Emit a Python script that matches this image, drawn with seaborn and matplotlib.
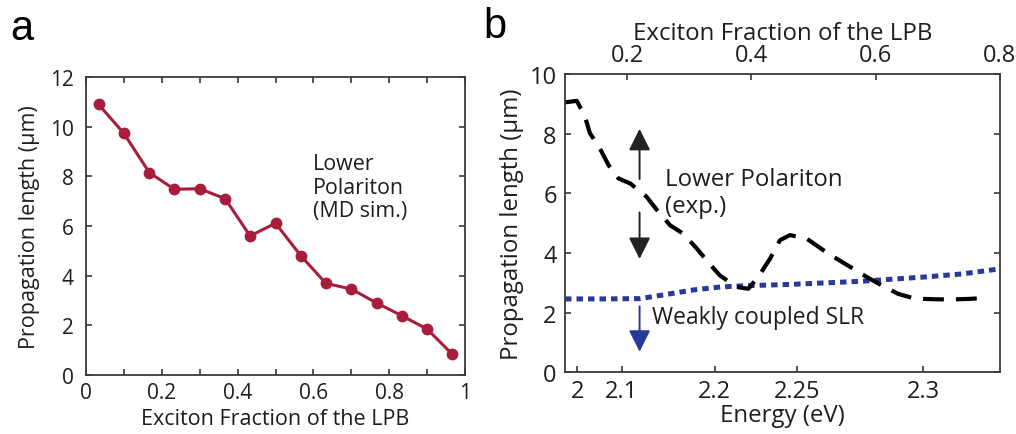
import numpy as np
import pandas as pd
import matplotlib
matplotlib.use("Agg")
import matplotlib.pyplot as plt
from matplotlib.ticker import FixedLocator, FixedFormatter, MultipleLocator
import seaborn as sns

# ---- Panel a: simulated lower-polariton propagation length ----
md_fraction = [0.033, 0.100, 0.167, 0.233, 0.300, 0.367, 0.433, 0.500,
               0.567, 0.633, 0.700, 0.767, 0.833, 0.900, 0.967]
md_length = [10.9, 9.73, 8.15, 7.48, 7.50, 7.10, 5.60, 6.11,
             4.80, 3.69, 3.46, 2.90, 2.39, 1.85, 0.83]

# ---- Panel b: measured lower-polariton and weakly coupled SLR ----
exp_fraction = [0.100, 0.119, 0.132, 0.140, 0.156, 0.170, 0.186, 0.205,
                0.231, 0.248, 0.269, 0.290, 0.312, 0.328, 0.349, 0.376,
                0.395, 0.411, 0.430, 0.446, 0.462, 0.489, 0.516, 0.537,
                0.564, 0.586, 0.610, 0.636, 0.663, 0.693, 0.720, 0.749,
                0.776]
exp_length = [9.05, 9.10, 8.58, 8.02, 7.51, 6.95, 6.50, 6.33,
              5.89, 5.44, 4.93, 4.65, 4.15, 3.75, 3.25, 2.86,
              2.80, 3.20, 3.81, 4.43, 4.60, 4.48, 4.09, 3.81,
              3.47, 3.19, 2.91, 2.63, 2.47, 2.45, 2.44, 2.46,
              2.49]

slr_fraction = [0.100, 0.160, 0.221, 0.260, 0.306, 0.350, 0.387, 0.467,
                0.575, 0.682, 0.740, 0.800]
slr_length = [2.46, 2.46, 2.47, 2.60, 2.76, 2.86, 2.90, 2.95,
              3.05, 3.20, 3.30, 3.47]

# bottom axis of panel b: photon energy marked at its exciton fraction
energy_labels = ["2", "2.1", "2.2", "2.25", "2.3"]
energy_at_fraction = [0.120, 0.191, 0.341, 0.474, 0.676]

fraction_ticks_a = [0, 0.2, 0.4, 0.6, 0.8, 1.0]
fraction_labels_a = ["0", "0.2", "0.4", "0.6", "0.8", "1"]
fraction_ticks_b = [0.2, 0.4, 0.6, 0.8]
fraction_labels_b = ["0.2", "0.4", "0.6", "0.8"]

RED = "#a81d3b"
BLUE = "#28399a"
INK = "#1e1e1e"
SPINE = "#3a3a3a"

sns.set_theme(style="ticks")
plt.rcParams["font.family"] = ["Open Sans", "DejaVu Sans"]
plt.rcParams["axes.edgecolor"] = SPINE
plt.rcParams["axes.linewidth"] = 1.3
plt.rcParams["text.color"] = INK
plt.rcParams["axes.labelcolor"] = INK
plt.rcParams["xtick.color"] = SPINE
plt.rcParams["ytick.color"] = SPINE
plt.rcParams["xtick.labelcolor"] = INK
plt.rcParams["ytick.labelcolor"] = INK

W, H = 1016, 435
fig = plt.figure(figsize=(W / 100, H / 100), dpi=100)
fig.patch.set_facecolor("white")

def rect(x0, y0, x1, y1):
    return [x0 / W, 1 - y1 / H, (x1 - x0) / W, (y1 - y0) / H]

# ================= panel a =================
ax_a = fig.add_axes(rect(86, 78, 465, 376))
df_a = pd.DataFrame({"fraction": md_fraction, "length": md_length})
sns.lineplot(data=df_a, x="fraction", y="length", ax=ax_a, color=RED,
             linewidth=2.2, marker="o", markersize=8.5, markeredgewidth=0,
             markerfacecolor=RED)
ax_a.set_xlim(0, 1)
ax_a.set_ylim(0, 12)
ax_a.xaxis.set_major_locator(FixedLocator(fraction_ticks_a))
ax_a.xaxis.set_major_formatter(FixedFormatter(fraction_labels_a))
ax_a.xaxis.set_minor_locator(MultipleLocator(0.1))
ax_a.yaxis.set_major_locator(MultipleLocator(2))
ax_a.tick_params(axis="both", which="both", direction="in", length=4,
                 width=1.2, top=True, right=True, labelsize=15)
ax_a.tick_params(axis="y", pad=9)
ax_a.tick_params(axis="x", pad=5)
ax_a.set_xlabel("Exciton Fraction of the LPB", fontsize=15.5, labelpad=4)
ax_a.set_ylabel("Propagation length (\u03bcm)", fontsize=15.5, labelpad=7)
ax_a.text(0.598, 8.92, "Lower\nPolariton\n(MD sim.)", fontsize=15.4,
          ha="left", va="top", linespacing=1.15, color=INK)
fig.text(10 / W, 1 - 40 / H, "a", fontsize=30, family="Liberation Sans",
         color="black", ha="left", va="baseline")

# ================= panel b =================
ax_b = fig.add_axes(rect(565, 75, 1000, 373.3))
df_exp = pd.DataFrame({"fraction": exp_fraction, "length": exp_length})
df_slr = pd.DataFrame({"fraction": slr_fraction, "length": slr_length})
sns.lineplot(data=df_slr, x="fraction", y="length", ax=ax_b, color=BLUE,
             linewidth=3.6, linestyle=(0, (1.3, 1.0)), dash_capstyle="butt")
sns.lineplot(data=df_exp, x="fraction", y="length", ax=ax_b, color="black",
             linewidth=3.0, linestyle=(0, (5.0, 2.9)), dash_capstyle="butt")
ax_b.set_xlim(0.1, 0.8)
ax_b.set_ylim(0, 10)
ax_b.yaxis.set_major_locator(MultipleLocator(2))
ax_b.xaxis.set_major_locator(FixedLocator(fraction_ticks_b))
ax_b.xaxis.set_major_formatter(FixedFormatter(fraction_labels_b))
ax_b.tick_params(axis="both", direction="in", length=4, width=1.2,
                 right=True, labelsize=17)
ax_b.tick_params(axis="x", top=True, bottom=False, labeltop=True,
                 labelbottom=False, pad=5)
ax_b.tick_params(axis="y", pad=6)
ax_b.xaxis.set_label_position("top")
ax_b.set_xlabel("Exciton Fraction of the LPB", fontsize=17.3, labelpad=3)
ax_b.set_ylabel("Propagation length (\u03bcm)", fontsize=17.3, labelpad=4)

ax_e = ax_b.secondary_xaxis("bottom")
ax_e.xaxis.set_major_locator(FixedLocator(energy_at_fraction))
ax_e.xaxis.set_major_formatter(FixedFormatter(energy_labels))
ax_e.tick_params(axis="x", direction="in", length=4, width=1.2,
                 labelsize=17, pad=5, color=SPINE)
ax_e.spines["bottom"].set_visible(False)
ax_e.set_xlabel("Energy (eV)", fontsize=17.3, labelpad=0)

arrow_black = dict(arrowstyle="-|>,head_length=0.6,head_width=0.3",
                   color="#222222", lw=1.4, mutation_scale=22,
                   shrinkA=0, shrinkB=0)
arrow_blue = dict(arrowstyle="-|>,head_length=0.6,head_width=0.3",
                  color=BLUE, lw=1.4, mutation_scale=22,
                  shrinkA=0, shrinkB=0)
ax_b.annotate("", xy=(0.220, 8.16), xytext=(0.220, 6.48),
              arrowprops=arrow_black)
ax_b.annotate("", xy=(0.220, 3.80), xytext=(0.220, 5.36),
              arrowprops=arrow_black)
ax_b.annotate("", xy=(0.220, 0.69), xytext=(0.220, 2.21),
              arrowprops=arrow_blue)
ax_b.text(0.261, 6.88, "Lower Polariton\n(exp.)", fontsize=17.3,
          ha="left", va="top", linespacing=1.17, color=INK)
ax_b.text(0.2395, 2.26, "Weakly coupled SLR", fontsize=16.5,
          ha="left", va="top", color=INK)
fig.text(483 / W, 1 - 38 / H, "b", fontsize=30, family="Liberation Sans",
         color="black", ha="left", va="baseline")

fig.savefig("out.png", dpi=100, facecolor="white")
